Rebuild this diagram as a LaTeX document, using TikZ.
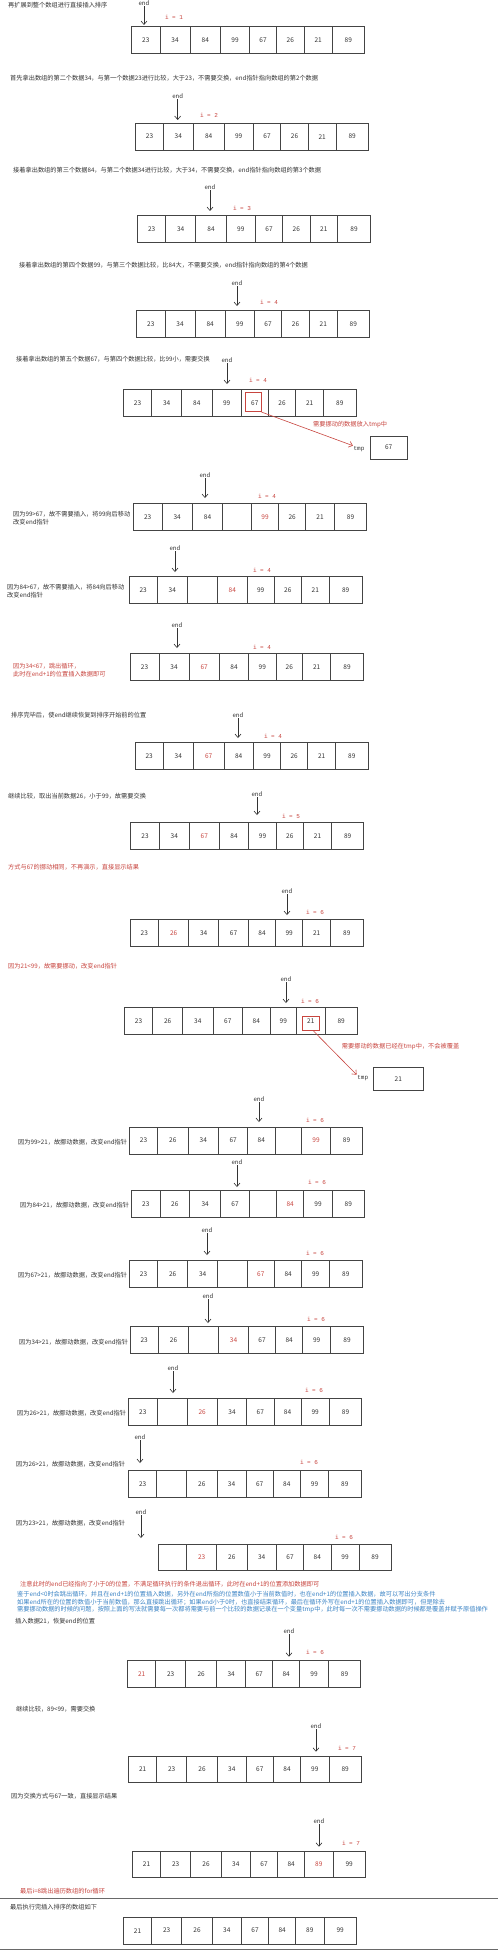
\documentclass[tikz,border=0pt]{standalone}
\usepackage{fontspec}
\newfontfamily\cjk{Noto Sans CJK SC}
\newfontfamily\monof{Liberation Mono}
\usetikzlibrary{arrows.meta}
\definecolor{rd}{HTML}{C8453F}
\definecolor{bl}{HTML}{3D85C6}
\definecolor{ln}{HTML}{444444}
\definecolor{tx}{HTML}{333333}
\newcommand\R[1]{\textcolor{rd}{#1}}
\newcommand\myrow[4]{\foreach \xa/\xb/\v [count=\k] in {#4}{\node[cell, minimum width={\xb-\xa}, minimum height={#3-#2}] (#1-\k) at ({(\xa+\xb)/2},{(#2+#3)/2}) {\v};}}
\newcommand\myend[4]{\node[endlbl] (#1) at (#2,#3) {end}; \coordinate (#1t) at (#2,#4); \draw[endarr] (#1) -- (#1t);}
\newcommand\myi[4]{\node[ilbl] (#1) at (#2,#3) {i = #4};}
\tikzset{
  cell/.style={draw=ln, line width=0.7pt, inner sep=0pt, font=\cjk\fontsize{6.5}{7}\selectfont, text=tx},
  endlbl/.style={font=\cjk\fontsize{6}{7}\selectfont, text=tx, inner sep=0.5pt},
  endarr/.style={draw=tx, line width=0.6pt, -{Straight Barb[length=3.5pt,width=6pt]}},
  redarr/.style={draw=rd, line width=0.6pt, -{Straight Barb[length=3.5pt,width=6pt]}},
  ilbl/.style={font=\monof\fontsize{6}{7}\selectfont, text=rd, inner sep=0pt},
  tmplbl/.style={font=\monof\fontsize{6}{7}\selectfont, text=tx, inner sep=0.5pt},
  txt/.style={font=\cjk\fontsize{6.2}{8}\selectfont, text=tx, anchor=west, inner sep=0pt, align=left},
  rtxt/.style={txt, text=rd},
  btxt/.style={font=\cjk\fontsize{6.2}{7.5}\selectfont, text=bl, anchor=west, inner sep=0pt, align=left},
  hlbox/.style={draw=rd, line width=0.6pt, inner sep=0pt},
  sep/.style={draw=ln!80, line width=0.7pt}
}
\begin{document}
\begin{tikzpicture}[x=1pt,y=-1pt]
\fill[white] (0,0) rectangle (500,1953);
\useasboundingbox (0,0) rectangle (500,1953);

% row 1
\node[txt] (t1) at (8,5) {再扩展到整个数组进行直接插入排序};
\myend{e1}{144}{3}{25}
\myi{i1}{174}{17}{1}
\myrow{r1}{26.7}{53.3}{131.7/160/23,160/190/34,190/220.7/84,220.7/249.3/99,249.3/276.7/67,276.7/304/26,304/332.3/21,332.3/364.3/89}

% row 2
\node[txt] (t2) at (10,77.7) {首先拿出数组的第二个数据34，与第一个数据23进行比较，大于23，不需要交换，end指针指向数组的第2个数据};
\myend{e2}{177.7}{96}{120}
\myi{i2}{209}{115.3}{2}
\myrow{r2}{123.3}{150}{135.7/163.3/23,163.3/193.3/34,193.3/224/84,224/253.3/99,253.3/280.7/67,280.7/308.3/26,308.3/336/21,336/368.3/89}

% row 3
\node[txt] (t3) at (13,169.7) {接着拿出数组的第三个数据84，与第二个数据34进行比较，大于34，不需要交换，end指针指向数组的第3个数据};
\myend{e3}{210}{187}{211}
\myi{i3}{242}{208}{3}
\myrow{r3}{215.7}{242.7}{137.7/165.7/23,165.7/195.7/34,195.7/226.3/84,226.3/255.3/99,255.3/282.7/67,282.7/310/26,310/337.7/21,337.7/370.3/89}

% row 4
\node[txt] (t4) at (19,265) {接着拿出数组的第四个数据99，与第三个数据比较，比84大，不需要交换，end指针指向数组的第4个数据};
\myend{e4}{237}{283}{306}
\myi{i4}{269}{302}{4}
\myrow{r4}{310.7}{337.3}{136.7/165/23,165/195/34,195/225.3/84,225.3/254.3/99,254.3/281.7/67,281.7/309.3/26,309.3/337.3/21,337.3/369.3/89}

% row 5
\node[txt] (t5) at (16,359) {接着拿出数组的第五个数据67，与第四个数据比较，比99小，需要交换};
\myend{e5}{227}{360}{384}
\myi{i5}{258}{380}{4}
\myrow{r5}{389.3}{416.7}{123.3/151.7/23,151.7/181.7/34,181.7/212/84,212/241.3/99,241.3/268.3/67,268.3/295.7/26,295.7/323.7/21,323.7/356/89}
\node[hlbox, minimum width=15.7, minimum height=19] (hl1) at (253.2,402.2) {};
\node[rtxt] (rt1) at (313,425) {需要挪动的数据放入tmp中};
\node[tmplbl] (tmp1) at (359,449) {tmp};
\node[cell, minimum width=37.3, minimum height=23] (tb1) at (388.7,447.5) {67};
\draw[redarr] (hl1.south east) -- (tmp1.north west);

% row 6
\node[txt] (t6) at (13,518) {因为99>67，故不需要插入，将99向后移动\\改变end指针};
\myend{e6}{205}{475}{498}
\myi{i6}{267}{496}{4}
\myrow{r6}{503.3}{530.7}{133.3/162/23,162/192.3/34,192.3/222.7/84,222.7/251.3/{},251.3/278.7/\R{99},278.7/305.7/26,305.7/334.3/21,334.3/366.7/89}

% row 7
\node[txt] (t7) at (7,591) {因为84>67，故不需要插入，将84向后移动\\改变end指针};
\myend{e7}{175}{548}{572}
\myi{i7}{262}{570}{4}
\myrow{r7}{576.7}{603.3}{129/157.3/23,157.3/187.3/34,187.3/217.7/{},217.7/247/\R{84},247/274.3/99,274.3/301.3/26,301.3/329.3/21,329.3/362/89}

% row 8
\node[rtxt] (t8) at (13,670) {因为34<67，跳出循环，\\此时在end+1的位置插入数据即可};
\myend{e8}{177}{625}{648}
\myi{i8}{262}{647}{4}
\myrow{r8}{653.3}{680.3}{130/159/23,159/189/34,189/219.3/\R{67},219.3/248.7/84,248.7/276/99,276/302.7/26,302.7/330.7/21,330.7/363.3/89}

% row 9
\node[txt] (t9) at (11,715) {排序完毕后，使end继续恢复到排序开始前的位置};
\myend{e9}{238}{715}{738}
\myi{i9}{273}{736}{4}
\myrow{r9}{742.7}{769.7}{135/163.3/23,163.3/193.3/34,193.3/224/\R{67},224/253.3/84,253.3/280.7/99,280.7/307.7/26,307.7/335.7/21,335.7/368/89}

% row 10
\node[txt] (t10) at (8,796) {继续比较，取出当前数据26，小于99，故需要交换};
\myend{e10}{257}{794}{815}
\myi{i10}{291}{816}{5}
\myrow{r10}{822.7}{849.3}{130.7/159.3/23,159.3/189.3/34,189.3/219.3/\R{67},219.3/248.7/84,248.7/276.3/99,276.3/303.3/26,303.3/331.7/21,331.7/363.7/89}

% row 11
\node[rtxt] (t11) at (8,867) {方式与67的挪动相同，不再演示，直接显示结果};
\myend{e11}{287}{891}{915}
\myi{i11}{315}{912}{6}
\myrow{r11}{919.7}{946.3}{130/158.7/23,158.7/188.7/\R{26},188.7/218.7/34,218.7/248.3/67,248.3/275.7/84,275.7/302.7/99,302.7/330.7/21,330.7/363/89}

% row 12
\node[rtxt] (t12) at (8,966) {因为21<99，故需要挪动，改变end指针};
\myend{e12}{286}{979}{1003}
\myi{i12}{310}{1001}{6}
\myrow{r12}{1007.7}{1034.7}{124.3/152.7/23,152.7/182.7/26,182.7/213/34,213/242.7/67,242.7/270/84,270/296.7/99,296.7/325/21,325/357.3/89}
\node[hlbox, minimum width=16.3, minimum height=14] (hl2) at (310.85,1023.7) {};
\node[rtxt] (rt2) at (341.7,1047) {需要挪动的数据已经在tmp中，不会被覆盖};
\node[tmplbl] (tmp2) at (362.7,1078) {tmp};
\node[cell, minimum width=50, minimum height=23.4] (tb2) at (398.3,1079) {21};
\draw[redarr] (hl2.-70) -- (tmp2.north west);

% row 13
\node[txt] (t13) at (18,1142) {因为99>21，故挪动数据，改变end指针};
\myend{e13}{259}{1099}{1122}
\myi{i13}{315}{1120}{6}
\myrow{r13}{1127.3}{1154}{129.3/157.7/23,157.7/188/26,188/218.7/34,218.7/247.7/67,247.7/275/84,275/301.7/{},301.7/330.3/\R{99},330.3/362.7/89}

% row 14
\node[txt] (t14) at (20,1205) {因为84>21，故挪动数据，改变end指针};
\myend{e14}{237}{1162}{1187}
\myi{i14}{317}{1182}{6}
\myrow{r14}{1190.3}{1217.3}{131.7/160/23,160/189.7/26,189.7/220.7/34,220.7/249.3/67,249.3/276.7/{},276.7/303.7/\R{84},303.7/332.3/99,332.3/364.3/89}

% row 15
\node[txt] (t15) at (18,1275) {因为67>21，故挪动数据，改变end指针};
\myend{e15}{207}{1230}{1255}
\myi{i15}{315}{1253}{6}
\myrow{r15}{1260.3}{1287.3}{129.3/157.7/23,157.7/187.7/26,187.7/217.7/34,217.7/247/{},247/274.7/\R{67},274.7/301.7/84,301.7/329.7/99,329.7/362/89}

% row 16
\node[txt] (t16) at (19,1342) {因为34>21，故挪动数据，改变end指针};
\myend{e16}{208}{1296}{1323}
\myi{i16}{316}{1319}{6}
\myrow{r16}{1326.7}{1353.7}{130/158.3/23,158.3/188.7/26,188.7/218.7/{},218.7/248.3/\R{34},248.3/275.7/67,275.7/302.7/84,302.7/330.7/99,330.7/363.3/89}

% row 17
\node[txt] (t17) at (17,1413) {因为26>21，故挪动数据，改变end指针};
\myend{e17}{173}{1368}{1393}
\myi{i17}{314}{1390}{6}
\myrow{r17}{1398.3}{1425.3}{128.7/157/23,157/187/{},187/217.3/\R{26},217.3/246.7/34,246.7/274/67,274/301/84,301/329.3/99,329.3/361.7/89}

% row 18
\node[txt] (t18) at (16,1464) {因为26>21，故挪动数据，改变end指针};
\myend{e18}{140}{1437}{1463}
\myi{i18}{309}{1462}{6}
\myrow{r18}{1470.7}{1497.3}{128.7/156.7/23,156.7/186.7/{},186.7/217/26,217/246/34,246/273.3/67,273.3/300.3/84,300.3/328.7/99,328.7/361/89}

% row 19
\node[txt] (t19) at (16,1523) {因为23>21，故挪动数据，改变end指针};
\myend{e19}{141}{1512}{1538}
\myi{i19}{344}{1537}{6}
\myrow{r19}{1544}{1570.7}{158.3/186.7/{},186.7/216.7/\R{23},216.7/247/26,247/276.3/34,276.3/303.7/67,303.7/331/84,331/359/99,359/391/89}

\node[rtxt] (t20) at (20,1584) {注意此时的end已经指向了小于0的位置，不满足循环执行的条件退出循环，此时在end+1的位置添加数据即可};
\node[btxt] (t21) at (17,1602.5) {鉴于end<0时会跳出循环，并且在end+1的位置插入数据，另外在end所指的位置数值小于当前数值时，也在end+1的位置插入数据，故可以写出分支条件\\如果end所在的位置的数值小于当前数值，那么直接跳出循环；如果end小于0时，也直接结束循环，最后在循环外写在end+1的位置插入数据即可，但是除去\\需要挪动数据的时候的问题，按照上面的写法就需要每一次都将需要与前一个比较的数据记录在一个变量tmp中，此时每一次不需要挪动数据的时候都是覆盖并赋予原值操作};

% row 20
\node[txt] (t22) at (15,1621.3) {插入数据21，恢复end的位置};
\myend{e20}{289}{1631}{1656.7}
\myi{i20}{315}{1652.7}{6}
\myrow{r20}{1660.3}{1687.3}{127.7/155.7/\R{21},155.7/185.7/23,185.7/216.7/26,216.7/245.7/34,245.7/272.7/67,272.7/299.7/84,299.7/328.3/99,328.3/360.7/89}

% row 21
\node[txt] (t23) at (16,1709) {继续比较，89<99，需要交换};
\myend{e21}{316}{1726}{1751.7}
\myi{i21}{347}{1748.3}{7}
\myrow{r21}{1756}{1782.3}{128.7/156.7/21,156.7/186.7/23,186.7/217.3/26,217.3/246.3/34,246.3/273.3/67,273.3/300.7/84,300.7/329/99,329/361.3/89}

% row 22
\node[txt] (t24) at (11,1796) {因为交换方式与67一致，直接显示结果};
\myend{e22}{319}{1821}{1846.7}
\myi{i22}{351}{1843}{7}
\myrow{r22}{1851}{1877.7}{132.3/160.7/21,160.7/190.7/23,190.7/221.3/26,221.3/250.3/34,250.3/277.7/67,277.7/304.7/84,304.7/333/\R{89},333/365.3/99}
\node[rtxt] (t25) at (20,1891.3) {最后i=8跳出遍历数组的for循环};

\coordinate (s1a) at (0,1898.3); \coordinate (s1b) at (498,1898.3);
\draw[sep] (s1a) -- (s1b);
\node[txt] (t26) at (10,1907.3) {最后执行完插入排序的数组如下};
\myrow{r23}{1917.3}{1944}{123.3/151.7/21,151.7/181.7/23,181.7/212.3/26,212.3/241.3/34,241.3/268.7/67,268.7/295.7/84,295.7/324/89,324/356.3/99}
\coordinate (s2a) at (0,1949); \coordinate (s2b) at (498,1949);
\draw[sep] (s2a) -- (s2b);
\end{tikzpicture}
\end{document}
